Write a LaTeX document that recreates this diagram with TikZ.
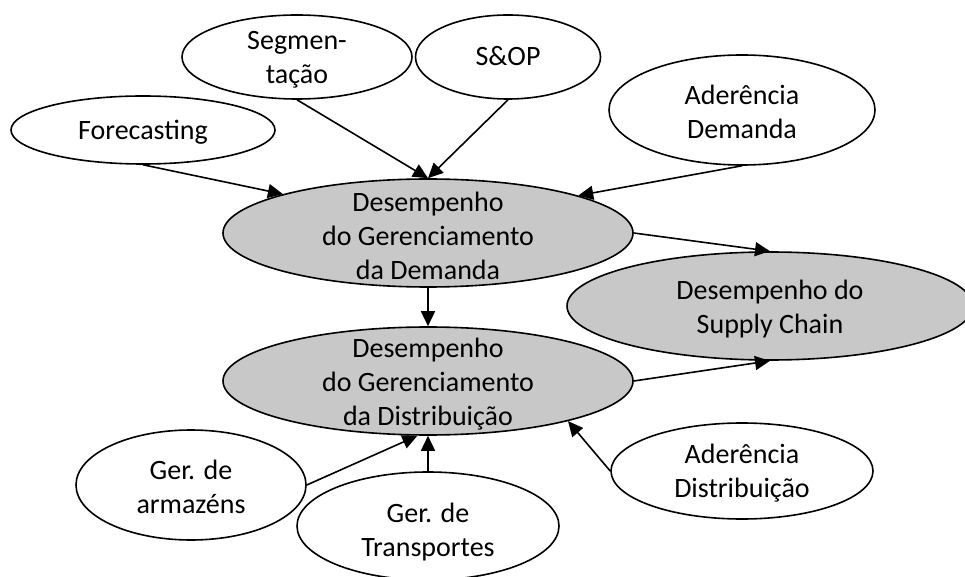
\documentclass[tikz,border=0pt]{standalone}
\usepackage{fontspec}
\setmainfont{Carlito}
\usetikzlibrary{shapes.geometric,arrows.meta}
\definecolor{fillgray}{RGB}{200,200,200}
\begin{document}
\begin{tikzpicture}[x=1pt,y=1pt,
  el/.style={ellipse, draw, line width=1.6pt, inner sep=0pt},
  gel/.style={el, fill=fillgray},
  lbl/.style={align=center, font=\fontsize{28}{34}\selectfont, inner sep=0pt},
  arr/.style={line width=1.6pt, -{Triangle[length=15pt,width=14pt]}}]
\useasboundingbox (0,0) rectangle (965,576);
% ellipses
\node[el, minimum width=264, minimum height=68] (fc) at (143,446) {};
\node[el, minimum width=230, minimum height=84] (seg) at (297,519) {};
\node[el, minimum width=185, minimum height=84] (sop) at (508,519) {};
\node[el, minimum width=266, minimum height=110] (adm) at (742,466) {};
\node[gel, minimum width=410, minimum height=108] (dem) at (428,343) {};
\node[gel, minimum width=406, minimum height=108] (sc) at (770,270) {};
\node[gel, minimum width=410, minimum height=108] (dis) at (428,195) {};
\node[el, minimum width=230, minimum height=110] (arm) at (191,91) {};
\node[el, minimum width=262, minimum height=108] (tra) at (428,50) {};
\node[el, minimum width=262, minimum height=96] (add) at (742,105) {};
% labels
\node[lbl] (fct) at (143,444) {Forecasting};
\node[lbl] (segt) at (297,516) {Segmen-\\tação};
\node[lbl] (sopt) at (508,520) {S\&OP};
\node[lbl] (admt) at (742,464) {Aderência\\Demanda};
\node[lbl] (demt) at (428,340) {Desempenho\\do Gerenciamento\\da Demanda};
\node[lbl] (sct) at (770,267) {Desempenho do\\Supply Chain};
\node[lbl] (dist) at (428,192) {Desempenho\\do Gerenciamento\\da Distribuição};
\node[lbl] (armt) at (191,89) {Ger. de\\armazéns};
\node[lbl] (trat) at (428,44) {Ger. de\\Transportes};
\node[lbl] (addt) at (742,103) {Aderência\\Distribuição};
% connectors
\draw[arr] (fc.south) -- (dem.165.9);
\draw[arr] (seg.south) -- (dem.north);
\draw[arr] (sop.south) -- (dem.north);
\draw[arr] (adm.south) -- (dem.14.5);
\draw[arr] (dem.east) -- (sc.north);
\draw[arr] (dem.south) -- (dis.north);
\draw[arr] (dis.east) -- (sc.south);
\draw[arr] (arm.east) -- (dis.259);
\draw[arr] (tra.north) -- (dis.south);
\draw[arr] (add.west) -- (dis.344.8);
\end{tikzpicture}
\end{document}
